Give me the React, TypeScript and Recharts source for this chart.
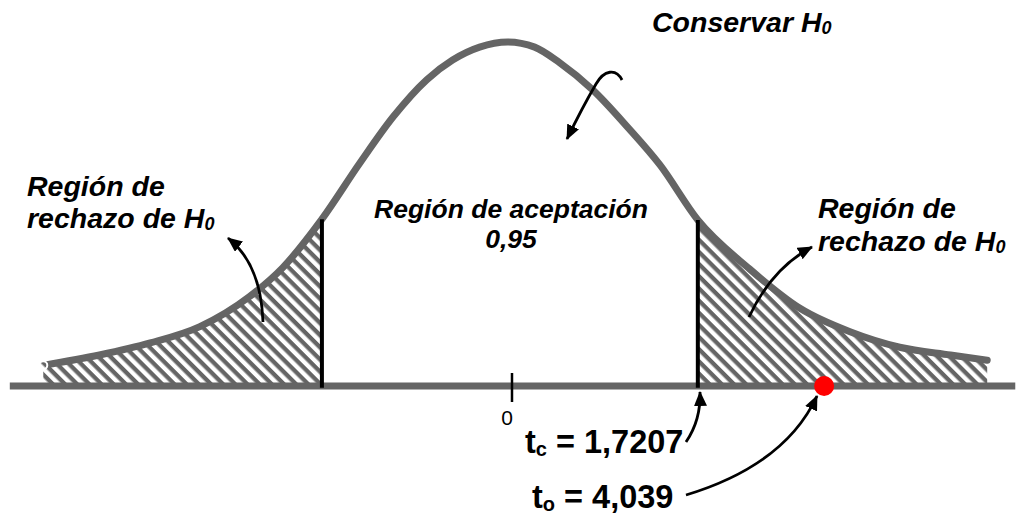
import { Area, ComposedChart, Line, ReferenceDot, ReferenceLine, XAxis, YAxis } from "recharts";

// t positions (0 sits at x≈512, about 108 px per unit)
const tValues = [
  -4.34, -3.82, -3.35, -2.89, -2.43, -2.12, -1.76, -1.41, -1.1, -0.79, -0.55, -0.3, -0.04, 0.21, 0.44,
  0.75, 1.07, 1.37, 1.7207, 2.2, 2.67, 3.13, 3.59, 4.06, 4.4,
];
// height of the hand-drawn curve at each t (peak ≈ 0.40)
const density = [
  0.024, 0.036, 0.05, 0.069, 0.104, 0.138, 0.194, 0.259, 0.313, 0.356, 0.379, 0.394, 0.4, 0.394, 0.376,
  0.344, 0.301, 0.257, 0.193, 0.136, 0.09, 0.063, 0.045, 0.036, 0.03,
];

const criticalLeft = -1.76; // drawn a bit wider than -1,7207
const criticalRight = 1.7207;
const observedT = 2.89; // where the red dot sits on the drawing
const zeroTick = 0;

const X_DOMAIN: [number, number] = [-4.7407, 4.6667];
const Y_DOMAIN: [number, number] = [-0.1535, 0.4488];

const GRAY = "#656565";
const FONT = '"Liberation Sans", Arial, sans-serif';

const chartData = tValues.map((t, i) => ({
  t,
  density: density[i],
  leftTail: t <= criticalLeft ? density[i] : null,
  rightTail: t >= criticalRight ? density[i] : null,
}));

const heightAt = (t: number) => density[tValues.indexOf(t)];

function Annotations() {
  const label = { fontFamily: FONT, fontWeight: 700, fontStyle: "italic", fontSize: 28.5, fill: "#000" } as const;
  const big = { fontFamily: FONT, fontWeight: 700, fontSize: 32.5, fill: "#000" } as const;
  return (
    <svg
      width={1016}
      height={518}
      style={{ position: "absolute", left: 0, top: 0, pointerEvents: "none" }}
    >
      <defs>
        <marker
          id="arrow-head"
          viewBox="0 0 15 13"
          refX={14}
          refY={6.5}
          markerWidth={15}
          markerHeight={13}
          markerUnits="userSpaceOnUse"
          orient="auto"
        >
          <path d="M0,0 L15,6.5 L0,13 z" fill="#000" />
        </marker>
      </defs>

      <text x={652} y={32} {...label}>
        Conservar H<tspan fontSize={18} dy={2}>0</tspan>
      </text>

      <text x={27} y={196} {...label}>Región de</text>
      <text x={27} y={228} {...label}>
        rechazo de H<tspan fontSize={18} dy={2}>0</tspan>
      </text>

      <text x={511} y={218} textAnchor="middle" {...label} fontSize={26.5}>Región de aceptación</text>
      <text x={511} y={248} textAnchor="middle" {...label} fontSize={26.5}>0,95</text>

      <text x={818} y={218} {...label}>Región de</text>
      <text x={818} y={251} {...label}>
        rechazo de H<tspan fontSize={18} dy={2}>0</tspan>
      </text>

      <text x={507} y={425} textAnchor="middle" fontFamily={FONT} fontSize={21} fill="#000">0</text>

      <text x={525} y={453} {...big}>
        t<tspan fontSize={20} dy={3}>c</tspan>
        <tspan dy={-3}>{" = 1,7207"}</tspan>
      </text>
      <text x={532} y={508} {...big}>
        t<tspan fontSize={20} dy={3}>o</tspan>
        <tspan dy={-3}>{" = 4,039"}</tspan>
      </text>

      <g fill="none" stroke="#000" strokeWidth={2.8} markerEnd="url(#arrow-head)">
        <path d="M263,322 Q261,264 228,238" />
        <path d="M749,317 Q772,268 812,247" />
        <path d="M622,80 C616,68 604,70 596,84 Q582,108 567,139" />
        <path d="M686,442 Q701,420 700,392" />
        <path d="M686,495 Q785,465 817,396" />
      </g>
    </svg>
  );
}

export default function App() {
  return (
    <div style={{ position: "absolute", left: 0, top: 0, width: 1016, height: 518, background: "#fff" }}>
      <ComposedChart width={1016} height={518} data={chartData} margin={{ top: 0, right: 0, bottom: 0, left: 0 }}>
        <defs>
          <pattern
            id="tail-hatch"
            patternUnits="userSpaceOnUse"
            width={8.6}
            height={8.6}
            patternTransform="rotate(-45)"
          >
            <rect width={8.6} height={8.6} fill={GRAY} />
            <rect width={4.3} height={8.6} fill="#fff" />
          </pattern>
        </defs>
        <XAxis type="number" dataKey="t" domain={X_DOMAIN} allowDataOverflow hide />
        <YAxis type="number" domain={Y_DOMAIN} allowDataOverflow hide />

        <Area
          type="monotone"
          dataKey="leftTail"
          baseValue={0}
          stroke="none"
          fill="url(#tail-hatch)"
          fillOpacity={1}
          isAnimationActive={false}
        />
        <Area
          type="monotone"
          dataKey="rightTail"
          baseValue={0}
          stroke="none"
          fill="url(#tail-hatch)"
          fillOpacity={1}
          isAnimationActive={false}
        />
        <Line
          type="monotone"
          dataKey="density"
          stroke={GRAY}
          strokeWidth={7}
          strokeLinecap="round"
          dot={false}
          activeDot={false}
          isAnimationActive={false}
        />

        <ReferenceLine
          segment={[
            { x: -4.65, y: 0 },
            { x: 4.66, y: 0 },
          ]}
          stroke={GRAY}
          strokeWidth={7}
          ifOverflow="visible"
        />
        <ReferenceLine
          segment={[
            { x: zeroTick, y: -0.0186 },
            { x: zeroTick, y: 0.0151 },
          ]}
          stroke="#000"
          strokeWidth={2.5}
          ifOverflow="visible"
        />
        <ReferenceLine
          segment={[
            { x: criticalLeft, y: -0.002 },
            { x: criticalLeft, y: heightAt(criticalLeft) },
          ]}
          stroke="#000"
          strokeWidth={4}
          ifOverflow="visible"
        />
        <ReferenceLine
          segment={[
            { x: criticalRight, y: -0.002 },
            { x: criticalRight, y: heightAt(criticalRight) },
          ]}
          stroke="#000"
          strokeWidth={4}
          ifOverflow="visible"
        />
        <ReferenceDot x={observedT} y={0} r={10} fill="#ff0000" stroke="none" ifOverflow="visible" />
      </ComposedChart>
      <Annotations />
    </div>
  );
}
